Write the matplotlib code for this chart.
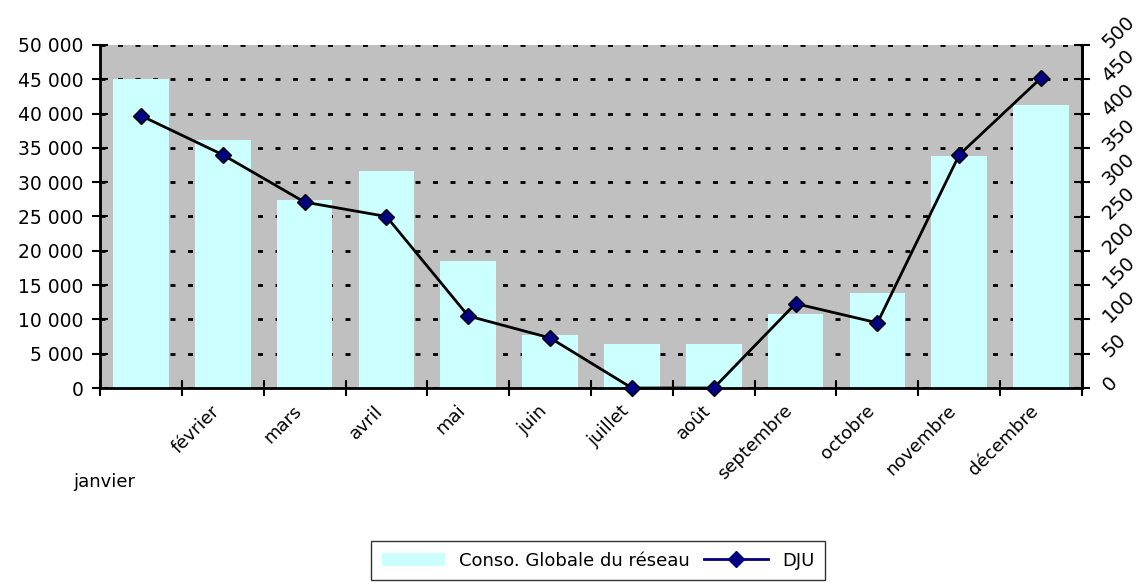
import matplotlib
matplotlib.use("Agg")
import matplotlib.pyplot as plt
import matplotlib.transforms as mtransforms
from matplotlib.lines import Line2D
from matplotlib.patches import Patch

months = ["janvier", "février", "mars", "avril", "mai", "juin", "juillet",
          "août", "septembre", "octobre", "novembre", "décembre"]
conso = [45000, 36200, 27400, 31600, 18500, 7700, 6400, 6400, 10800, 13900, 33800, 41300]
dju = [397, 340, 271, 250, 105, 73, 0, 0, 123, 95, 340, 452]

plt.rcParams["font.family"] = ["DejaVu Sans"]

fig = plt.figure(figsize=(11.47, 5.86), dpi=100)
ax = fig.add_axes([100 / 1147, 1 - 388 / 586, 982 / 1147, 343 / 586])
ax.set_facecolor("#C0C0C0")

x = list(range(len(months)))
ax.bar(x, conso, width=0.68, color="#CCFFFF", zorder=2)
ax.set_xlim(-0.5, 11.5)
ax.set_ylim(0, 50000)
ax.set_yticks(range(0, 50001, 5000))
ax.set_yticklabels([f"{v:,}".replace(",", " ") for v in range(0, 50001, 5000)], fontsize=13.5)
ax.set_axisbelow(True)
ax.yaxis.grid(True, color="black", linestyle=(0, (1.8, 4.5)), linewidth=2)
ax.set_xticks([i - 0.5 for i in range(13)])
ax.set_xticklabels([])
ax.tick_params(axis="both", direction="inout", length=12, width=1.5)
ax.tick_params(axis="y", pad=6)
ax.spines["top"].set_visible(False)
for s in ["left", "bottom", "right"]:
    ax.spines[s].set_linewidth(2)

ax2 = ax.twinx()
ax2.plot(x, dju, color="black", linewidth=2, marker="D", markersize=8,
         markerfacecolor="#000080", markeredgecolor="black", markeredgewidth=1,
         clip_on=False, zorder=5)
ax2.set_ylim(0, 500)
ax2.set_yticks(range(0, 501, 50))
ax2.set_yticklabels([str(v) for v in range(0, 501, 50)], fontsize=14,
                    rotation=45, ha="left", va="center", rotation_mode="anchor")
ax2.tick_params(axis="y", direction="inout", length=12, width=1.5, pad=11)
ax2.spines["top"].set_visible(False)
ax2.spines["right"].set_linewidth(2)

trans = mtransforms.blended_transform_factory(ax.transData, ax.transAxes)
for i, m in enumerate(months):
    if i == 0:
        ax.text(i - 0.07, -0.274, m, transform=trans, ha="right", va="center",
                fontsize=13)
    else:
        ax.text(i - 0.15, -0.04, m, transform=trans, rotation=45, ha="right",
                va="top", rotation_mode="anchor", fontsize=13)

handles = [Patch(facecolor="#CCFFFF", edgecolor="none"),
           Line2D([], [], color="#000080", linewidth=2, marker="D", markersize=8,
                  markerfacecolor="#000080")]
fig.legend(handles, ["Conso. Globale du réseau", "DJU"], loc="lower center",
           bbox_to_anchor=(598 / 1147, -0.006), ncol=2, frameon=True, fancybox=False,
           edgecolor="black", fontsize=13, handlelength=3.5, columnspacing=0.8,
           borderpad=0.6)

fig.savefig("out.png", dpi=100)
